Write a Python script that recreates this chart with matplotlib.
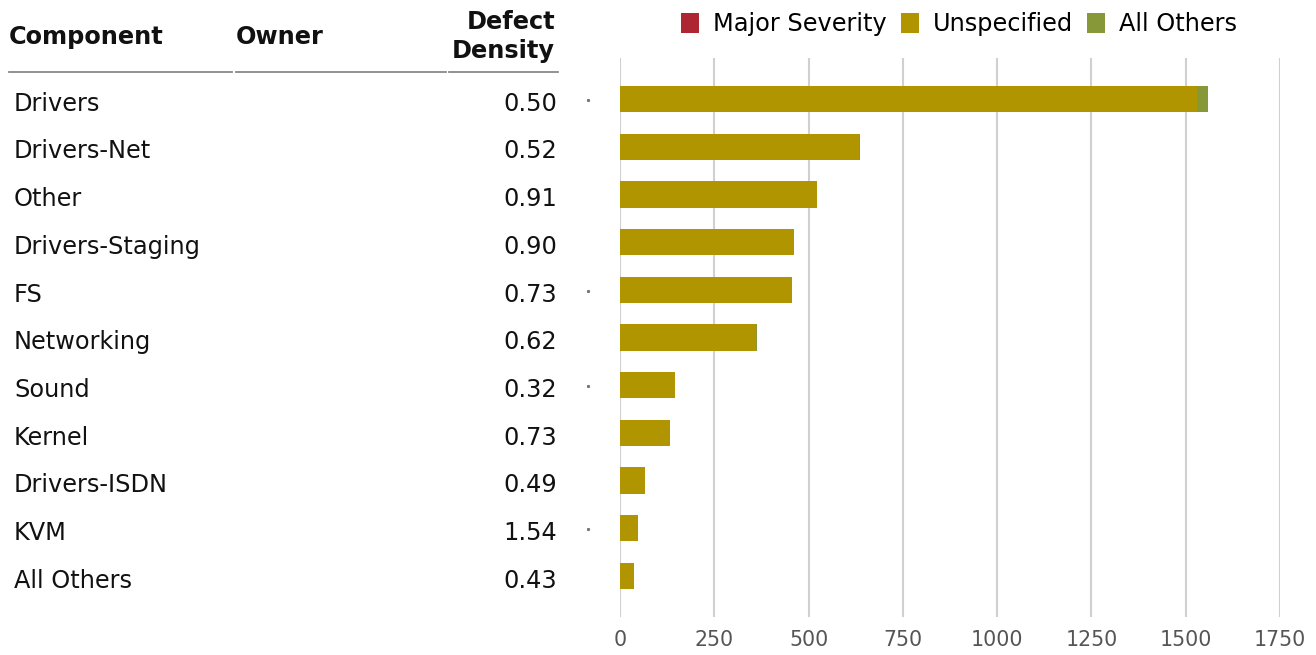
import matplotlib
matplotlib.use("Agg")
import matplotlib.pyplot as plt
from matplotlib.patches import Patch
from matplotlib.lines import Line2D
import matplotlib.transforms as mtransforms

# Component defect summary
components = ["Drivers", "Drivers-Net", "Other", "Drivers-Staging", "FS",
              "Networking", "Sound", "Kernel", "Drivers-ISDN", "KVM", "All Others"]
owners = [""] * len(components)
defect_density = [0.50, 0.52, 0.91, 0.90, 0.73, 0.62, 0.32, 0.73, 0.49, 1.54, 0.43]

major_severity = [0, 0, 0, 0, 0, 0, 0, 0, 0, 0, 0]
unspecified = [1531, 633, 523, 462, 455, 361, 147, 133, 67, 49, 37]
all_others = [29, 4, 0, 0, 0, 1, 0, 0, 0, 0, 0]

series_names = ["Major Severity", "Unspecified", "All Others"]
series_colors = ["#ad2632", "#b09400", "#869838"]
x_ticks = [0, 250, 500, 750, 1000, 1250, 1500, 1750]
trend_rows = [0, 4, 6, 9]

plt.rcParams["font.family"] = ["DejaVu Sans"]
W, H = 1316, 655
fig = plt.figure(figsize=(W / 100, H / 100), dpi=100)


def fx(px):
    return px / W


def fy(py):
    return 1 - py / H


# Stacked bar area
ax_left, ax_right, ax_top, ax_bottom = 620, 1280, 58, 617
ax = fig.add_axes([fx(ax_left), fy(ax_bottom), fx(ax_right - ax_left),
                   (ax_bottom - ax_top) / H])
n = len(components)
ypos = list(range(n))
bar_h = 0.55
left = [0] * n
for name, vals, col in zip(series_names, [major_severity, unspecified, all_others], series_colors):
    ax.barh(ypos, vals, left=left, height=bar_h, color=col, zorder=3, linewidth=0)
    left = [a + b for a, b in zip(left, vals)]

ax.set_xlim(0, 1750)
ax.set_ylim(n - 1 + 0.86, -0.86)
ax.set_xticks(x_ticks)
ax.set_xticklabels([str(t) for t in x_ticks])
ax.set_yticks([])
ax.grid(axis="x", color="#d0d0d0", linewidth=1.5, zorder=0)
ax.tick_params(axis="x", length=0, pad=9, labelsize=14.8, labelcolor="#555555")
for s in ax.spines.values():
    s.set_visible(False)

# Table columns on the left, rows aligned with the bars
blend = mtransforms.blended_transform_factory(fig.transFigure, ax.transData)
fs = 17.3
for i, (comp, own, dd) in enumerate(zip(components, owners, defect_density)):
    y = i + 0.1
    fig.text(fx(14), y, comp, fontsize=fs, va="center", ha="left",
             color="#111111", transform=blend)
    fig.text(fx(236), y, own, fontsize=fs, va="center", ha="left",
             color="#111111", transform=blend)
    fig.text(fx(557), y, f"{dd:.2f}", fontsize=fs, va="center", ha="right",
             color="#111111", transform=blend)

for r in trend_rows:
    fig.lines.append(Line2D([fx(587.5)], [r + 0.02], transform=blend, marker="s",
                            markersize=1.2, color="#777777", linestyle="none"))

# Header
fig.text(fx(9), fy(37), "Component", fontsize=fs, fontweight="bold",
         va="center", ha="left", color="#111111")
fig.text(fx(236), fy(37), "Owner", fontsize=fs, fontweight="bold",
         va="center", ha="left", color="#111111")
fig.text(fx(555), fy(22), "Defect", fontsize=fs, fontweight="bold",
         va="center", ha="right", color="#111111")
fig.text(fx(555), fy(51), "Density", fontsize=fs, fontweight="bold",
         va="center", ha="right", color="#111111")
for x0, x1 in [(9, 232), (236, 446), (449, 558)]:
    fig.lines.append(Line2D([fx(x0), fx(x1)], [fy(72), fy(72)],
                            transform=fig.transFigure, color="#888888",
                            linewidth=1.3))

# Legend
handles = [Patch(facecolor=c, edgecolor="none") for c in series_colors]
fig.legend(handles, series_names, loc="center", bbox_to_anchor=(fx(959), fy(24)),
           ncol=3, frameon=False, fontsize=fs, handlelength=0.75,
           handleheight=0.9, handletextpad=0.55, columnspacing=0.62,
           borderpad=0, borderaxespad=0)

fig.savefig("out.png", dpi=100)
